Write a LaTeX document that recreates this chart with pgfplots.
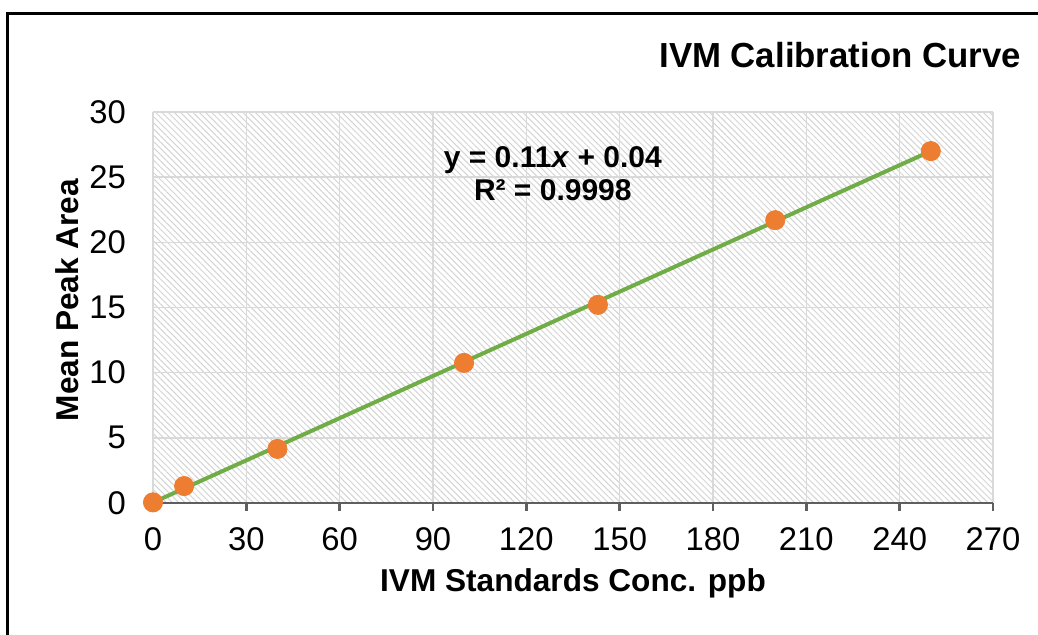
\documentclass[border=0pt]{standalone}
\usepackage{fontspec}
\setmainfont{Liberation Sans}
\usepackage{pgfplots}
\pgfplotsset{compat=1.18}
\usetikzlibrary{patterns.meta}
\definecolor{hatch}{RGB}{212,212,212}
\definecolor{gridgray}{RGB}{217,217,217}
\definecolor{axgray}{RGB}{95,95,95}
\definecolor{xorange}{RGB}{237,125,49}
\definecolor{xgreen}{RGB}{112,173,71}
\definecolor{xblue}{RGB}{68,114,196}
\begin{document}
\begin{tikzpicture}
\useasboundingbox (0,0) rectangle (519pt,-317.5pt);
\draw[line width=1.6pt, black] (3.6pt,-317.5pt) -- (3.6pt,-6.6pt) -- (519pt,-6.6pt);
\node[anchor=east, font=\fontsize{17.4}{20}\selectfont\bfseries] at (514pt,-27.5pt) {IVM Calibration Curve};
\begin{axis}[
  at={(76.5pt,-251.5pt)}, anchor=south west,
  scale only axis, width=420pt, height=195.5pt,
  xmin=0, xmax=270, ymin=0, ymax=30,
  xtick={0,30,...,270}, ytick={0,5,...,30},
  axis x line=bottom, axis y line=left,
  axis line style={-},
  x axis line style={draw=axgray, line width=1.4pt},
  y axis line style={draw=none},
  xtick style={draw=axgray, line width=1.4pt},
  ytick style={draw=none},
  tick align=outside, major tick length=4pt,
  grid=major,
  major grid style={draw=gridgray, line width=0.8pt},
  axis background/.style={pattern={Lines[angle=-45,distance=2.2pt,line width=0.5pt]}, pattern color=hatch},
  tick label style={font=\fontsize{16.4}{19}\selectfont},
  /pgf/number format/assume math mode=true,
  xticklabel style={yshift=-5pt},
  yticklabel style={xshift=-6pt},
  xlabel={\bfseries IVM Standards Conc. ppb},
  ylabel={\bfseries Mean Peak Area},
  label style={font=\fontsize{15.8}{19}\selectfont\bfseries},
  xlabel style={at={(axis description cs:0.5,-0.205)}, anchor=center},
  ylabel style={at={(axis description cs:-0.1024,0.519)}, anchor=center, rotate=0},
  clip=false,
]
\addplot[xblue, line width=1pt, no marks] coordinates {
(0,0.04) (250,27.04)
};
\addplot[only marks, mark=*, mark size=4.8pt, mark options={fill=xorange, draw=xorange}] coordinates {
(0,0.05) (10,1.3) (40,4.15) (100,10.75) (143,15.2) (200,21.7) (250,27.0)
};
\addplot[xgreen, line width=2pt, no marks] coordinates {
(0,0.04) (250,27.0)
};
\node[align=center, font=\fontsize{15}{16.5}\selectfont\bfseries] at (rel axis cs:0.476,0.842) {y = 0.11\textit{x} + 0.04\\R² = 0.9998};
\end{axis}
\end{tikzpicture}
\end{document}
